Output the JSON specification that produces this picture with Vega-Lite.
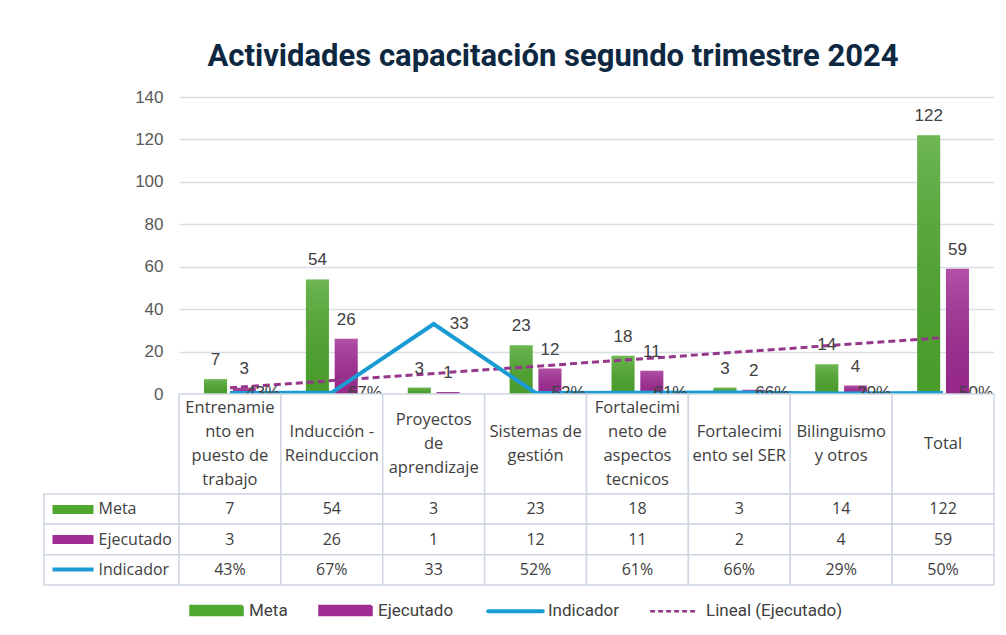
{
  "$schema": "https://vega.github.io/schema/vega-lite/v6.json",
  "background": "white",
  "padding": {"left": 43, "top": 41, "right": 5, "bottom": 0},
  "title": {
    "text": "Actividades capacitación segundo trimestre 2024",
    "font": "Roboto",
    "fontSize": 31,
    "fontWeight": "bold",
    "color": "#0e2841",
    "anchor": "middle",
    "dx": 34,
    "offset": -16,
    "baseline": "bottom"
  },
  "datasets": {
    "vals": [
      {"cat": "Entrenamiento en puesto de trabajo", "idx": 1, "serie": "Meta", "value": 7, "label": "7"},
      {"cat": "Entrenamiento en puesto de trabajo", "idx": 1, "serie": "Ejecutado", "value": 3, "label": "3"},
      {"cat": "Entrenamiento en puesto de trabajo", "idx": 1, "serie": "Indicador", "value": 0.43, "label": "43%"},
      {"cat": "Inducción - Reinduccion", "idx": 2, "serie": "Meta", "value": 54, "label": "54"},
      {"cat": "Inducción - Reinduccion", "idx": 2, "serie": "Ejecutado", "value": 26, "label": "26"},
      {"cat": "Inducción - Reinduccion", "idx": 2, "serie": "Indicador", "value": 0.67, "label": "67%"},
      {"cat": "Proyectos de aprendizaje", "idx": 3, "serie": "Meta", "value": 3, "label": "3"},
      {"cat": "Proyectos de aprendizaje", "idx": 3, "serie": "Ejecutado", "value": 1, "label": "1"},
      {"cat": "Proyectos de aprendizaje", "idx": 3, "serie": "Indicador", "value": 33, "label": "33"},
      {"cat": "Sistemas de gestión", "idx": 4, "serie": "Meta", "value": 23, "label": "23"},
      {"cat": "Sistemas de gestión", "idx": 4, "serie": "Ejecutado", "value": 12, "label": "12"},
      {"cat": "Sistemas de gestión", "idx": 4, "serie": "Indicador", "value": 0.52, "label": "52%"},
      {"cat": "Fortalecimineto de aspectos tecnicos", "idx": 5, "serie": "Meta", "value": 18, "label": "18"},
      {"cat": "Fortalecimineto de aspectos tecnicos", "idx": 5, "serie": "Ejecutado", "value": 11, "label": "11"},
      {"cat": "Fortalecimineto de aspectos tecnicos", "idx": 5, "serie": "Indicador", "value": 0.61, "label": "61%"},
      {"cat": "Fortalecimiento sel SER", "idx": 6, "serie": "Meta", "value": 3, "label": "3"},
      {"cat": "Fortalecimiento sel SER", "idx": 6, "serie": "Ejecutado", "value": 2, "label": "2"},
      {"cat": "Fortalecimiento sel SER", "idx": 6, "serie": "Indicador", "value": 0.66, "label": "66%"},
      {"cat": "Bilinguismo y otros", "idx": 7, "serie": "Meta", "value": 14, "label": "14"},
      {"cat": "Bilinguismo y otros", "idx": 7, "serie": "Ejecutado", "value": 4, "label": "4"},
      {"cat": "Bilinguismo y otros", "idx": 7, "serie": "Indicador", "value": 0.29, "label": "29%"},
      {"cat": "Total", "idx": 8, "serie": "Meta", "value": 122, "label": "122"},
      {"cat": "Total", "idx": 8, "serie": "Ejecutado", "value": 59, "label": "59"},
      {"cat": "Total", "idx": 8, "serie": "Indicador", "value": 0.5, "label": "50%"}
    ],
    "cats": [
      {"cat": "Entrenamiento en puesto de trabajo", "idx": 1, "lines": ["Entrenamie", "nto en", "puesto de", "trabajo"]},
      {"cat": "Inducción - Reinduccion", "idx": 2, "lines": ["Inducción -", "Reinduccion"]},
      {"cat": "Proyectos de aprendizaje", "idx": 3, "lines": ["Proyectos", "de", "aprendizaje"]},
      {"cat": "Sistemas de gestión", "idx": 4, "lines": ["Sistemas de", "gestión"]},
      {"cat": "Fortalecimineto de aspectos tecnicos", "idx": 5, "lines": ["Fortalecimi", "neto de", "aspectos", "tecnicos"]},
      {"cat": "Fortalecimiento sel SER", "idx": 6, "lines": ["Fortalecimi", "ento sel SER"]},
      {"cat": "Bilinguismo y otros", "idx": 7, "lines": ["Bilinguismo", "y otros"]},
      {"cat": "Total", "idx": 8, "lines": ["Total"]}
    ],
    "series": [
      {"serie": "Meta"},
      {"serie": "Ejecutado"},
      {"serie": "Indicador"}
    ],
    "blank": [{}]
  },
  "columns": 2,
  "spacing": 0,
  "bounds": "flush",
  "resolve": {"legend": {"color": "independent"}},
  "concat": [
    {
      "data": {"name": "blank"},
      "width": 135,
      "height": 297,
      "mark": {"type": "text", "text": ""}
    },
    {
      "width": 815,
      "height": 297,
      "data": {"name": "vals"},
      "layer": [
        {
          "transform": [{"filter": "datum.serie !== 'Indicador'"}],
          "mark": {"type": "bar"},
          "encoding": {
            "x": {"field": "cat", "type": "nominal", "scale": {"type": "band", "domain": ["Entrenamiento en puesto de trabajo", "Inducción - Reinduccion", "Proyectos de aprendizaje", "Sistemas de gestión", "Fortalecimineto de aspectos tecnicos", "Fortalecimiento sel SER", "Bilinguismo y otros", "Total"], "paddingInner": 0, "paddingOuter": 0}, "axis": null},
            "xOffset": {"field": "serie", "type": "nominal", "scale": {"domain": ["Meta", "Ejecutado"], "paddingInner": 0.2, "paddingOuter": 0.87}},
            "y": {"field": "value", "type": "quantitative", "scale": {"domain": [0, 140]},
              "axis": {"values": [0, 20, 40, 60, 80, 100, 120, 140], "title": null, "domain": false, "ticks": false, "labelPadding": 16, "labelFont": "Liberation Sans", "labelFontSize": 17, "labelColor": "#595959", "gridColor": "#d9dee6", "gridWidth": 1.5}},
            "color": {"field": "serie", "type": "nominal",
              "scale": {"domain": ["Meta", "Ejecutado", "Indicador", "Lineal (Ejecutado)"], "range": ["#4ea72e", "#a02b93", "#1a9bd3", "#95378b"]},
              "legend": {
                "orient": "none", "legendX": 29, "legendY": 505, "direction": "horizontal", "title": null,
                "symbolSize": 2704, "labelOffset": 24, "columnPadding": 26,
                "labelFont": "Roboto", "labelFontSize": 17, "labelColor": "#404040",
                "encode": {"symbols": {"update": {
                  "shape": {"signal": "datum.value === 'Meta' || datum.value === 'Ejecutado' ? 'M-1,-0.17H1V0.17H-1Z' : datum.value === 'Indicador' ? 'M-1.05,0H1.05' : 'M-0.9,0H0.9'"},
                  "fill": {"signal": "datum.value === 'Meta' ? '#4ea72e' : datum.value === 'Ejecutado' ? '#a02b93' : 'transparent'"},
                  "stroke": {"signal": "datum.value === 'Indicador' ? '#1a9bd3' : datum.value === 'Lineal (Ejecutado)' ? '#95378b' : 'transparent'"},
                  "strokeWidth": {"signal": "datum.value === 'Indicador' ? 4 : 2.5"},
                  "strokeDash": {"signal": "datum.value === 'Lineal (Ejecutado)' ? [5, 3] : [1, 0]"},
                  "strokeCap": {"signal": "datum.value === 'Indicador' ? 'round' : 'butt'"},
                  "opacity": {"value": 1},
                  "fillOpacity": {"value": 1},
                  "strokeOpacity": {"value": 1}
                }}}
              }}
          }
        },
        {
          "transform": [{"filter": "datum.serie !== 'Indicador'"}],
          "mark": {"type": "bar", "fill": {"gradient": "linear", "x1": 0, "y1": 0, "x2": 0, "y2": 1, "stops": [{"offset": 0, "color": "rgba(255,255,255,0.18)"}, {"offset": 1, "color": "rgba(0,0,0,0.06)"}]}},
          "encoding": {
            "x": {"field": "cat", "type": "nominal"},
            "xOffset": {"field": "serie", "type": "nominal"},
            "y": {"field": "value", "type": "quantitative"}
          }
        },
        {
          "transform": [
            {"filter": "datum.serie === 'Ejecutado'"},
            {"regression": "value", "on": "idx"},
            {"lookup": "idx", "from": {"data": {"name": "cats"}, "key": "idx", "fields": ["cat"]}}
          ],
          "mark": {"type": "line", "strokeDash": [7, 4], "strokeWidth": 3},
          "encoding": {
            "x": {"field": "cat", "type": "nominal"},
            "y": {"field": "value", "type": "quantitative"},
            "color": {"datum": "Lineal (Ejecutado)"}
          }
        },
        {
          "transform": [{"filter": "datum.serie === 'Indicador'"}],
          "mark": {"type": "line", "strokeWidth": 4, "strokeJoin": "miter"},
          "encoding": {
            "x": {"field": "cat", "type": "nominal"},
            "y": {"field": "value", "type": "quantitative"},
            "color": {"field": "serie", "type": "nominal"}
          }
        },
        {
          "transform": [{"filter": "datum.serie !== 'Indicador'"}],
          "mark": {"type": "text", "font": "Liberation Sans", "fontSize": 17, "color": "#404040", "baseline": "middle", "dy": -19},
          "encoding": {
            "x": {"field": "cat", "type": "nominal"},
            "xOffset": {"field": "serie", "type": "nominal"},
            "y": {"field": "value", "type": "quantitative"},
            "text": {"field": "label"}
          }
        },
        {
          "transform": [{"filter": "datum.serie === 'Indicador'"}],
          "mark": {"type": "text", "font": "Liberation Sans", "fontSize": 17, "color": "#404040", "baseline": "middle", "align": "left", "dx": 16},
          "encoding": {
            "x": {"field": "cat", "type": "nominal"},
            "y": {"field": "value", "type": "quantitative"},
            "text": {"field": "label"}
          }
        }
      ]
    },
    {
      "data": {"name": "blank"},
      "width": 135,
      "height": 100,
      "mark": {"type": "text", "text": ""}
    },
    {
      "width": 815,
      "height": 100,
      "data": {"name": "cats"},
      "layer": [
        {
          "mark": {"type": "rect", "fill": "white", "stroke": "#cfd7e2", "strokeWidth": 1.5},
          "encoding": {
            "x": {"field": "cat", "type": "nominal", "scale": {"type": "band", "domain": ["Entrenamiento en puesto de trabajo", "Inducción - Reinduccion", "Proyectos de aprendizaje", "Sistemas de gestión", "Fortalecimineto de aspectos tecnicos", "Fortalecimiento sel SER", "Bilinguismo y otros", "Total"], "paddingInner": 0, "paddingOuter": 0}, "axis": null}
          }
        },
        {
          "mark": {"type": "text", "font": "Open Sans", "fontSize": 16.5, "lineHeight": 24, "color": "#404040", "baseline": "middle", "dy": {"expr": "-(length(datum.lines) - 1) * 12"}},
          "encoding": {
            "x": {"field": "cat", "type": "nominal"},
            "text": {"field": "lines"}
          }
        }
      ]
    },
    {
      "width": 135,
      "height": 91,
      "data": {"name": "series"},
      "mark": {"type": "rect", "fill": "white", "stroke": "#cfd7e2", "strokeWidth": 1.5},
      "encoding": {
        "y": {"field": "serie", "type": "nominal", "scale": {"type": "band", "domain": ["Meta", "Ejecutado", "Indicador"], "paddingInner": 0, "paddingOuter": 0},
          "axis": {"orient": "right", "offset": -127, "title": null, "domain": false, "grid": false, "ticks": true, "tickSize": 41, "tickCap": "butt",
            "tickColor": {"condition": [{"test": "datum.value === 'Meta'", "value": "#4ea72e"}, {"test": "datum.value === 'Ejecutado'", "value": "#a02b93"}], "value": "#1a9bd3"},
            "tickWidth": {"condition": {"test": "datum.value === 'Indicador'", "value": 4}, "value": 9},
            "tickOpacity": 1,
            "labelPadding": 5, "labelFont": "Open Sans", "labelFontSize": 16, "labelColor": "#404040", "labelAlign": "left"}}
      }
    },
    {
      "width": 815,
      "height": 91,
      "data": {"name": "vals"},
      "layer": [
        {
          "mark": {"type": "rect", "fill": "white", "stroke": "#cfd7e2", "strokeWidth": 1.5},
          "encoding": {
            "x": {"field": "cat", "type": "nominal", "scale": {"type": "band", "domain": ["Entrenamiento en puesto de trabajo", "Inducción - Reinduccion", "Proyectos de aprendizaje", "Sistemas de gestión", "Fortalecimineto de aspectos tecnicos", "Fortalecimiento sel SER", "Bilinguismo y otros", "Total"], "paddingInner": 0, "paddingOuter": 0}, "axis": null},
            "y": {"field": "serie", "type": "nominal", "scale": {"type": "band", "domain": ["Meta", "Ejecutado", "Indicador"], "paddingInner": 0, "paddingOuter": 0}, "axis": null}
          }
        },
        {
          "mark": {"type": "text", "font": "Open Sans", "fontSize": 16, "color": "#404040", "baseline": "middle"},
          "encoding": {
            "x": {"field": "cat", "type": "nominal"},
            "y": {"field": "serie", "type": "nominal"},
            "text": {"field": "label"}
          }
        }
      ]
    }
  ],
  "config": {
    "view": {"stroke": null},
    "font": "Liberation Sans"
  }
}
